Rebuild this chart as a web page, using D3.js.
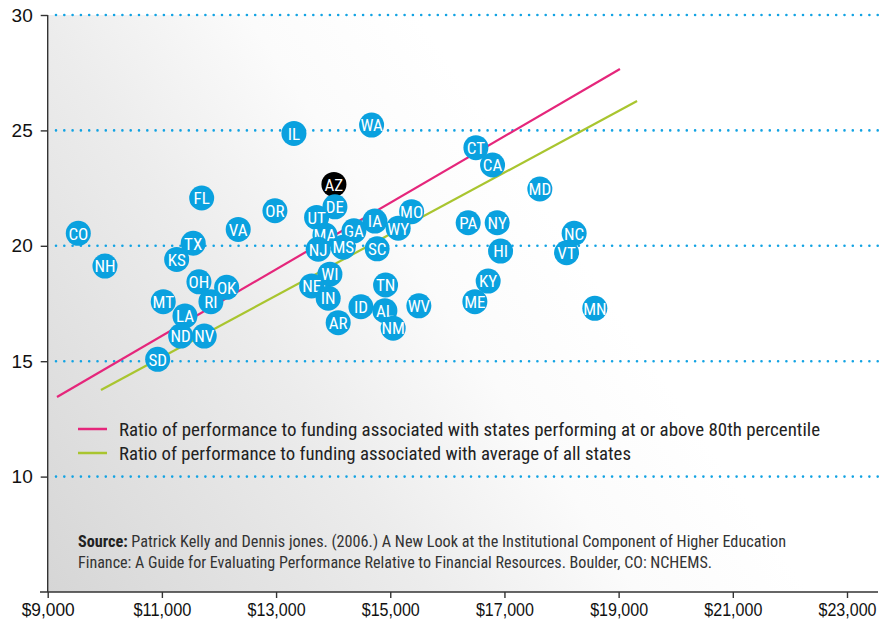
<!DOCTYPE html>
<html><head><meta charset="utf-8">
<script src="https://cdn.jsdelivr.net/npm/d3@7"></script>
<style>
html,body{margin:0;padding:0;background:#fff;}
svg{display:block;font-family:"Liberation Sans Narrow","Roboto Condensed","DejaVu Sans Condensed",Roboto,sans-serif;}
</style></head>
<body><svg id="c" width="881" height="624"></svg>
<script>
// ---- data ----
const states = ["AZ","DE","OR","UT","MA","GA","IA","MO","WY","NJ","MS","SC","WI","NE","IN","TN","ID","AL","WV","AR","NM",
  "CO","VA","TX","NH","KS","OH","OK","RI","MT","LA","ND","NV","SD","FL",
  "CT","CA","MD","PA","NY","NC","HI","VT","KY","ME","MN","IL","WA"];
const funding = [14013,14031,12980,13710,13856,14363,14731,15374,15139,13738,14176,14771,13943,13623,13913,14918,14486,14906,15501,14088,15051,
  9536,12337,11549,10003,11259,11649,12134,11859,11024,11404,11329,11742,10926,11697,
  16500,16792,17620,16365,16873,18221,16932,18088,16715,16482,18583,13313,14673];
const performance = [22.66,21.69,21.52,21.23,20.47,20.65,21.07,21.48,20.76,19.85,19.94,19.87,18.77,18.26,17.73,18.30,17.36,17.19,17.40,16.67,16.43,
  20.54,20.71,20.11,19.12,19.41,18.44,18.20,17.58,17.58,16.96,16.09,16.09,15.08,22.07,
  24.25,23.50,22.46,21.00,21.00,20.54,19.77,19.70,18.47,17.58,17.29,24.87,25.23];
const highlighted = ["AZ"];
const line80X = [9163,19023];
const line80Y = [13.45,27.66];
const lineAvgX = [9933,19323];
const lineAvgY = [13.75,26.27];
const xTicks = [9000,11000,13000,15000,17000,19000,21000,23000];
const yTicks = [10,15,20,25,30];
const legendLabels = ["Ratio of performance to funding associated with states performing at or above 80th percentile",
  "Ratio of performance to funding associated with average of all states"];
const sourceLines = ["Patrick Kelly and Dennis jones. (2006.) A New Look at the Institutional Component of Higher Education",
  "Finance: A Guide for Evaluating Performance Relative to Financial Resources. Boulder, CO: NCHEMS."];

// ---- chart ----
const svg = d3.select("#c");
const x = d3.scaleLinear().domain([9000,23000]).range([47.7,847]);
const y = d3.scaleLinear().domain([5,30]).range([592,15]);

const defs = svg.append("defs");
const g = defs.append("linearGradient").attr("id","bg").attr("gradientUnits","userSpaceOnUse")
  .attr("x1",48).attr("y1",592).attr("x2",700).attr("y2",150);
g.append("stop").attr("offset",0).attr("stop-color","#d6d6d6");
g.append("stop").attr("offset",0.4).attr("stop-color","#ececec");
g.append("stop").attr("offset",0.62).attr("stop-color","#fbfbfb");
g.append("stop").attr("offset",0.8).attr("stop-color","#ffffff");

svg.append("rect").attr("x",x(9000)).attr("y",y(30)).attr("width",881-x(9000)).attr("height",y(5)-y(30)).attr("fill","url(#bg)");

// grid
svg.append("g").selectAll("line").data(yTicks).join("line")
  .attr("x1",56).attr("x2",881).attr("y1",d=>y(d)).attr("y2",d=>y(d))
  .attr("stroke","#12a3e3").attr("stroke-width",2.6).attr("stroke-linecap","round")
  .attr("stroke-dasharray","0,8.3");

// axes
const yAxis = svg.append("g").attr("transform",`translate(${x(9000)},0)`)
  .call(d3.axisLeft(y).tickValues(yTicks).tickSize(7).tickPadding(8).tickFormat(d3.format("d")));
yAxis.select(".domain").attr("d",`M0,${y(30)}V${y(5)}`);
const xAxis = svg.append("g").attr("transform",`translate(0,${y(5)})`)
  .call(d3.axisBottom(x).tickValues(xTicks).tickSize(6).tickPadding(4).tickFormat(d=>"$"+d3.format(",")(d)));
xAxis.select(".domain").attr("d",`M40,0H878`);
[yAxis,xAxis].forEach(a=>{
  a.selectAll(".domain").attr("stroke","#333").attr("stroke-width",1.4);
  a.selectAll(".tick line").attr("stroke","#333").attr("stroke-width",1.4);
  a.selectAll("text").attr("fill","#111").attr("font-size",19).attr("font-family","inherit");
});
xAxis.selectAll(".tick text").attr("font-size",17.5).attr("dy","0.78em")
  .attr("textLength",function(){return this.textContent.length>6?58:53;})
  .attr("lengthAdjust","spacingAndGlyphs");

// trend lines
const ln = d3.line().x(d=>x(d[0])).y(d=>y(d[1]));
svg.append("path").attr("d",ln(d3.zip(line80X,line80Y))).attr("stroke","#e5267b").attr("stroke-width",2.2).attr("fill","none");
svg.append("path").attr("d",ln(d3.zip(lineAvgX,lineAvgY))).attr("stroke","#a9c52f").attr("stroke-width",2.2).attr("fill","none");

// points
const pts = states.map((s,i)=>({s,fx:funding[i],p:performance[i]})).sort((a,b)=>b.p-a.p);
const pg = svg.append("g").selectAll("g").data(pts).join("g")
  .attr("transform",d=>`translate(${x(d.fx)},${y(d.p)})`);
pg.append("circle").attr("r",12.5).attr("fill",d=>highlighted.includes(d.s)?"#000":"#0aa1df");
pg.append("text").text(d=>d.s).attr("text-anchor","middle").attr("dy","0.37em")
  .attr("fill","#fff").attr("font-size",17);

// legend
const colors = ["#e5267b","#a9c52f"];
const legendW = [701,512];
const lg = svg.append("g").selectAll("g").data(legendLabels).join("g")
  .attr("transform",(d,i)=>`translate(78,${429+i*24})`);
lg.append("line").attr("x1",0).attr("x2",29).attr("stroke",(d,i)=>colors[i]).attr("stroke-width",2.5);
lg.append("text").attr("x",41).attr("dy","0.36em").attr("font-size",18.5).attr("fill","#222")
  .attr("textLength",(d,i)=>legendW[i]).attr("lengthAdjust","spacingAndGlyphs").text(d=>d);

// source
const st = svg.append("text").attr("x",78).attr("y",547).attr("font-size",16).attr("fill","#333")
  .attr("textLength",708).attr("lengthAdjust","spacingAndGlyphs");
st.append("tspan").attr("font-weight","bold").attr("fill","#222").text("Source: ");
st.append("tspan").text(sourceLines[0]);
svg.append("text").attr("x",78).attr("y",568).attr("font-size",16).attr("fill","#333")
  .attr("textLength",634).attr("lengthAdjust","spacingAndGlyphs").text(sourceLines[1]);
</script></body></html>
